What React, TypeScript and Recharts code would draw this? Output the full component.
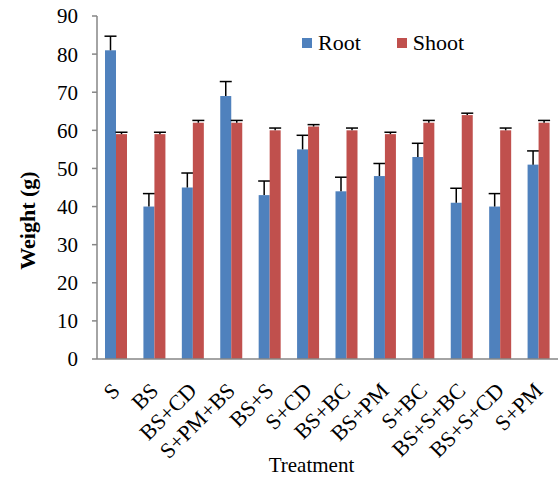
import React from 'react';
import { BarChart, Bar, XAxis, YAxis, Legend, Label } from 'recharts';

const categories = ['S', 'BS', 'BS+CD', 'S+PM+BS', 'BS+S', 'S+CD', 'BS+BC', 'BS+PM', 'S+BC', 'BS+S+BC', 'BS+S+CD', 'S+PM'];
const rootValues = [81, 40, 45, 69, 43, 55, 44, 48, 53, 41, 40, 51];
const rootErrors = [3.7, 3.4, 3.8, 3.8, 3.7, 3.7, 3.7, 3.3, 3.6, 3.8, 3.4, 3.6];
const shootValues = [59, 59, 62, 62, 60, 61, 60, 59, 62, 64, 60, 62];
const shootErrors = [0.5, 0.5, 0.6, 0.6, 0.6, 0.5, 0.6, 0.5, 0.6, 0.5, 0.6, 0.6];
const yTicks = [0, 10, 20, 30, 40, 50, 60, 70, 80, 90];

const ROOT = '#4F81BD';
const SHOOT = '#C0504D';
const AXIS = '#868686';
const FONT = 'Liberation Serif, DejaVu Serif, serif';

const data = categories.map((name, i) => ({
  name,
  root: rootValues[i],
  rootErr: rootErrors[i],
  shoot: shootValues[i],
  shootErr: shootErrors[i],
}));

// bar with an upward-only error whisker, like the Excel original
const barWithError = (errKey: string, valueKey: string) => (props: any) => {
  const { x, y, width, height, fill, payload } = props;
  const v = payload[valueKey];
  const e = payload[errKey];
  const pxPerUnit = v ? height / v : 0;
  const top = y - e * pxPerUnit;
  const cx = x + width / 2;
  return (
    <g>
      <rect x={x} y={y} width={width} height={height} fill={fill} />
      <line x1={cx} y1={y} x2={cx} y2={top} stroke="#000" strokeWidth={1.5} />
      <line x1={cx - 6} y1={top} x2={cx + 6} y2={top} stroke="#000" strokeWidth={1.5} />
    </g>
  );
};

const XTick = (props: any) => {
  const { x, y, payload } = props;
  return (
    <g transform={`translate(${x + 5},${y + 25})`}>
      <text textAnchor="end" transform="rotate(-45)" fontFamily={FONT} fontSize={22} fill="#000">
        {payload.value}
      </text>
    </g>
  );
};

const LegendContent = () => (
  <div style={{ display: 'flex', fontFamily: FONT, fontSize: 22, color: '#000', lineHeight: '22px' }}>
    <div style={{ display: 'flex', alignItems: 'center', marginRight: 36 }}>
      <span style={{ width: 10, height: 10, background: ROOT, marginRight: 6, display: 'inline-block' }} />
      Root
    </div>
    <div style={{ display: 'flex', alignItems: 'center' }}>
      <span style={{ width: 10, height: 10, background: SHOOT, marginRight: 6, display: 'inline-block' }} />
      Shoot
    </div>
  </div>
);

export default function App() {
  return (
    <div style={{ position: 'absolute', left: 0, top: 0, background: '#fff' }}>
      <BarChart
        width={558}
        height={477}
        data={data}
        margin={{ top: 16, right: 0, bottom: 0, left: 0 }}
        barGap={0}
        barSize={11}
      >
        <XAxis
          dataKey="name"
          interval={0}
          tickLine={false}
          axisLine={{ stroke: AXIS, strokeWidth: 1.5 }}
          tick={<XTick />}
          height={96}
        >
          <Label
            content={(p: any) => {
              const vb = p.viewBox;
              return (
                <text x={vb.x + vb.width / 2 - 16} y={vb.y + 113} textAnchor="middle" fontFamily={FONT} fontSize={21} fill="#000">
                  Treatment
                </text>
              );
            }}
          />
        </XAxis>
        <YAxis
          width={97}
          domain={[0, 90]}
          ticks={yTicks}
          interval={0}
          tickSize={5}
          tickMargin={14}
          axisLine={{ stroke: AXIS, strokeWidth: 1.5 }}
          tickLine={{ stroke: AXIS, strokeWidth: 1.5 }}
          tick={{ fontFamily: FONT, fontSize: 21, fill: '#000' }}
        >
          <Label
            content={(p: any) => {
              const vb = p.viewBox;
              const cx = vb.x + 27;
              const cy = vb.y + vb.height / 2 + 33;
              return (
                <text
                  x={cx}
                  y={cy}
                  transform={`rotate(-90, ${cx}, ${cy})`}
                  textAnchor="middle"
                  dominantBaseline="central"
                  fontFamily={FONT}
                  fontSize={22}
                  fontWeight="bold"
                  fill="#000"
                >
                  Weight (g)
                </text>
              );
            }}
          />
        </YAxis>
        <Legend content={<LegendContent />} wrapperStyle={{ top: 32, left: 302, width: 'auto' }} />
        <Bar dataKey="root" name="Root" fill={ROOT} isAnimationActive={false} shape={barWithError('rootErr', 'root')} />
        <Bar dataKey="shoot" name="Shoot" fill={SHOOT} isAnimationActive={false} shape={barWithError('shootErr', 'shoot')} />
      </BarChart>
    </div>
  );
}
